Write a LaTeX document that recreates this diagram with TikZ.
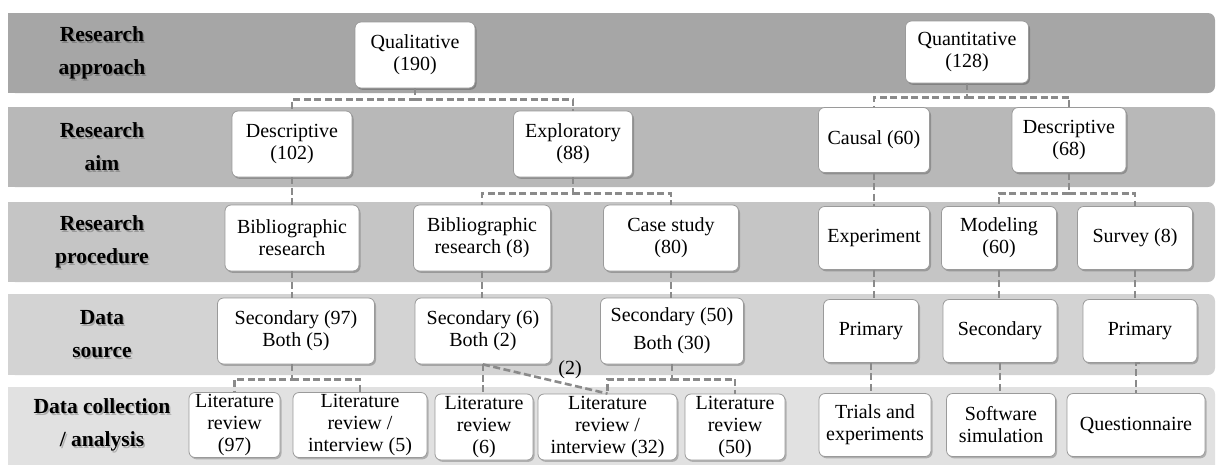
\documentclass[tikz,border=0pt]{standalone}
\usepackage{fontspec}
\setmainfont{LiberationSerif}[Extension=.ttf, UprightFont=*-Regular, BoldFont=*-Bold,
  ItalicFont=*-Italic, BoldItalicFont=*-BoldItalic]
\usetikzlibrary{shadows}

% band fills, darkest at the top
\definecolor{bandA}{HTML}{A6A6A6}
\definecolor{bandB}{HTML}{B8B8B8}
\definecolor{bandC}{HTML}{C5C5C5}
\definecolor{bandD}{HTML}{D3D3D3}
\definecolor{bandE}{HTML}{E1E1E1}
\definecolor{linkgray}{HTML}{8A8A8A}
\definecolor{boxline}{HTML}{9A9A9A}

\begin{document}
\begin{tikzpicture}[x=1pt,y=-1pt,
  box/.style={draw=boxline, line width=0.8pt, fill=white, rounded corners=6pt,
    align=center, inner sep=0pt, minimum width=#1,
    font=\fontsize{20}{22}\selectfont,
    drop shadow={shadow xshift=1.5pt, shadow yshift=-1.8pt, fill=black, opacity=0.22}},
  rowlabel/.style={align=center, inner sep=0pt,
    font=\bfseries\fontsize{21.5}{33}\selectfont},
  labelshade/.style={rowlabel, text=black, opacity=0.22},
  conn/.style={draw=linkgray, line width=2.6pt, dash pattern=on 7pt off 3.5pt},
  bandfill/.style={fill=#1, rounded corners=7pt}
]
\useasboundingbox (0,0) rectangle (1217,464);

% horizontal bands, square on the left and rounded on the right
\foreach \c/\t/\b in {bandA/13/93, bandB/107/187, bandC/202/282, bandD/294/375, bandE/387/480}{
  \fill[bandfill=\c] (8,\t) rectangle (1215,\b);
  \fill[\c] (8,\t) rectangle (30,\b);
}

% row labels with a soft shadow
\foreach \n/\y/\txt in {la/53/{Research\\approach}, lb/147/{Research\\aim},
    lc/242/{Research\\procedure}, ld/334/{Data\\source},
    le/425/{Data collection\\/ analysis}}{
  \node[labelshade] at (103.5,\y+1.8) {\txt};
  \node[rowlabel] (\n) at (102,\y) {\txt};
}

% level 1: research approach
\node[box=120pt, minimum height=66pt] (qual)  at (415,55)  {Qualitative\\(190)};
\node[box=123pt, minimum height=62pt] (quant) at (967,52)  {Quantitative\\(128)};

% level 2: research aim
\node[box=120pt, minimum height=66pt] (desc1)  at (292,144)  {Descriptive\\(102)};
\node[box=119pt, minimum height=66pt] (expl)   at (573,144)  {Exploratory\\(88)};
\node[box=111pt, minimum height=65pt] (causal) at (874,140)  {Causal (60)};
\node[box=114pt, minimum height=65pt] (desc2)  at (1069,140) {Descriptive\\(68)};

% level 3: research procedure
\node[box=134pt, minimum height=66pt] (bib1)   at (292,238)  {Bibliographic\\research};
\node[box=137pt, minimum height=66pt] (bib2)   at (482,238)  {Bibliographic\\research (8)};
\node[box=135pt, minimum height=66pt] (case)   at (671,238)  {Case study\\(80)};
\node[box=111pt, minimum height=63pt] (exper)  at (874,238)  {Experiment};
\node[box=115pt, minimum height=63pt] (model)  at (999,238)  {Modeling\\(60)};
\node[box=115pt, minimum height=63pt] (survey) at (1135,238) {Survey (8)};

% level 4: data source
\node[box=157pt, minimum height=66pt] (sec1)  at (296,331)  {Secondary (97)\\Both (5)};
\node[box=136pt, minimum height=66pt] (sec2)  at (483,331)  {Secondary (6)\\Both (2)};
\node[box=143pt, minimum height=66pt] (sec3)  at (672,331)  {Secondary (50)\\[6pt]Both (30)};
\node[box=95pt,  minimum height=63pt] (prim1) at (871,331)  {Primary};
\node[box=114pt, minimum height=63pt] (sec4)  at (1000,331) {Secondary};
\node[box=114pt, minimum height=63pt] (prim2) at (1140,331) {Primary};

% level 5: data collection / analysis
\node[box=91pt,  minimum height=65pt] (lit1)  at (234.5,425) {Literature\\review\\(97)};
\node[box=134pt, minimum height=65pt] (lit2)  at (360,425)   {Literature\\review /\\interview (5)};
\node[box=98pt,  minimum height=66pt] (lit3)  at (484,427)   {Literature\\review\\(6)};
\node[box=139pt, minimum height=66pt] (lit4)  at (607.5,427) {Literature\\review /\\interview (32)};
\node[box=100pt, minimum height=66pt] (lit5)  at (735,427)   {Literature\\review\\(50)};
\node[box=112pt, minimum height=63pt] (trial) at (875,425)   {Trials and\\experiments};
\node[box=109pt, minimum height=63pt] (soft)  at (1001,425)  {Software\\simulation};
\node[box=138pt, minimum height=63pt] (quest) at (1136,425)  {Questionnaire};

% connectors
\draw[conn] (qual.south) -- ++(0,11) -| (desc1.north);
\draw[conn] (qual.south) ++(0,11) -| (expl.north);
\draw[conn] (quant.south) -- ++(0,14) -| (causal.north);
\draw[conn] (quant.south) ++(0,14) -| (desc2.north);

\draw[conn] (desc1.south) -- (bib1.north);
\draw[conn] (expl.south) -- ++(0,16) -| (bib2.north);
\draw[conn] (expl.south) ++(0,16) -| (case.north);
\draw[conn] (causal.south) -- (exper.north);
\draw[conn] (desc2.south) -- ++(0,20.5) -| (model.north);
\draw[conn] (desc2.south) ++(0,20.5) -| (survey.north);

\draw[conn] (bib1.south) -- (bib1.south |- sec1.north);
\draw[conn] (bib2.south) -- (bib2.south |- sec2.north);
\draw[conn] (case.south) -- (case.south |- sec3.north);
\draw[conn] (exper.south) -- (exper.south |- prim1.north);
\draw[conn] (model.south) -- (model.south |- sec4.north);
\draw[conn] (survey.south) -- (survey.south |- prim2.north);

\draw[conn] (sec1.south) ++(-4,0) -- ++(0,15) -| (lit1.north);
\draw[conn] (sec1.south) ++(-4,15) -| (lit2.north);
\draw[conn] (sec2.south) -- (sec2.south |- lit3.north);
\draw[conn] (sec2.south) -- node[pos=0.7, above=1pt, font=\fontsize{20}{22}\selectfont, text=black] (two) {(2)} (lit4.north);
\draw[conn] (sec3.south) -- ++(0,15) -| (lit4.north);
\draw[conn] (sec3.south) ++(0,15) -| (lit5.north);

\draw[conn] (prim1.south) -- (prim1.south |- trial.north);
\draw[conn] (sec4.south) -- (sec4.south |- soft.north);
\draw[conn] (prim2.south) -- ++(-4,0) |- (quest.north);
\end{tikzpicture}
\end{document}
